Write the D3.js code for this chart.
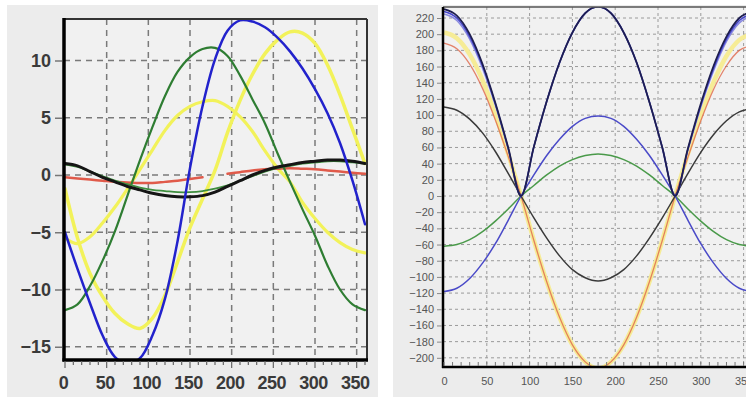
<!DOCTYPE html>
<html><head><meta charset="utf-8">
<script src="https://cdn.jsdelivr.net/npm/d3@7"></script>
<style>html,body{margin:0;padding:0;background:#fff;overflow:hidden}</style>
</head><body><svg id="c" width="746" height="397"></svg>
<script>
// ---------- DATA ----------
const degrees = [0,15,30,45,60,75,90,105,120,135,150,165,180,195,210,225,240,255,270,285,300,315,330,345,360];

// left chart
const leftXTicks = [0,50,100,150,200,250,300,350];
const leftYTicks = [-15,-10,-5,0,5,10];
const leftBlue    = [-5,-8.2,-11.2,-14,-15.9,-16.5,-16,-14,-10.8,-5.8,0.6,6,10.1,12.6,13.5,13.4,12.9,12,10.8,9.3,7.5,5.4,2.8,-0.5,-4.3];
const leftGreen   = [-11.8,-11.3,-9.7,-7.5,-4.9,-1.8,1.3,4.2,6.9,9,10.3,11,11.1,10.4,8.7,6.6,4.5,1.9,-0.6,-3,-5.3,-7.9,-10,-11.3,-11.8];
const leftYellowBig   = [-1.2,-5.5,-8.6,-10.6,-12.1,-13,-13.4,-12.5,-10.5,-7.6,-4.6,-2.1,0.4,3.7,6.5,8.8,10.6,11.8,12.5,12.4,11.5,9.6,7,4,1];
const leftYellowSmall = [-5.5,-6,-5.4,-4.2,-2.8,-1.2,0.5,2.2,3.9,5.2,6,6.4,6.5,6,5.1,3.8,2.1,0.6,-0.6,-2.4,-3.8,-5,-5.9,-6.5,-6.8];
const leftBlack   = [1,0.8,0.3,-0.2,-0.6,-1,-1.3,-1.6,-1.8,-1.9,-1.9,-1.8,-1.5,-1,-0.5,0,0.4,0.7,0.9,1.1,1.2,1.3,1.3,1.2,1];
const leftGreen2  = [0.9,0.7,0.3,-0.1,-0.5,-0.8,-1.1,-1.3,-1.4,-1.5,-1.5,-1.4,-1.2,-0.9,-0.5,-0.1,0.3,0.6,0.8,1,1.1,1.2,1.2,1.1,1];
const leftRed     = [-0.2,-0.3,-0.4,-0.5,-0.6,-0.65,-0.7,-0.7,-0.6,-0.5,-0.35,-0.2,null,0.1,0.25,0.4,0.5,0.55,0.6,0.55,0.5,0.4,0.3,0.2,0.1];

// right chart
const rightXTicks = [0,50,100,150,200,250,300,350];
const rightYTicks = [-200,-180,-160,-140,-120,-100,-80,-60,-40,-20,0,20,40,60,80,100,120,140,160,180,200,220];
const rightNavy   = [231,223,200,163,115,60,0,61,117,165,202,226,234,226,202,165,116,60,0,59,114,161,197,220,228];
const rightBlue   = [228,220,197,161,114,59,0,61,117,165,202,226,234,226,202,165,116,60,0,58,112,158,194,217,225];
const rightLight  = [225,217,194,158,112,58,0,61,117,165,202,226,234,226,202,165,116,60,0,57,110,155,191,214,222];
const rightRed    = [189,182,163,133,94,49,0,-55,-106,-150,-184,-205,-213,-205,-184,-150,-106,-55,0,48,93,132,161,180,186];
const rightYellow = [202,195,175,143,101,52,0,-55,-106,-150,-184,-205,-213,-205,-184,-150,-106,-55,0,52,100,141,173,193,200];
const rightBlack  = [110,106,95,78,55,28,0,-27,-52,-74,-91,-101,-105,-101,-91,-74,-52,-27,0,28,54,76,93,104,108];
const rightMidBlue= [-118,-114,-102,-83,-59,-30,0,26,50,70,86,96,99,96,86,70,50,26,0,-30,-59,-83,-102,-114,-118];
const rightGreen  = [-62,-60,-54,-44,-31,-16,0,13,26,37,45,50,52,50,45,37,26,13,0,-16,-31,-44,-54,-60,-62];

// ---------- DRAW ----------
const svg = d3.select('#c');
svg.append('rect').attr('width',746).attr('height',397).attr('fill','#fff');
const defs = svg.append('defs');

function series(arr){ return degrees.map((d,i)=>({x:d,y:arr[i]})); }

// ===== LEFT =====
(function(){
  const L = {left:64, right:367, top:19, bottom:360};
  svg.append('rect').attr('x',7).attr('y',5).attr('width',371).attr('height',392).attr('fill','#ececec');
  svg.append('rect').attr('x',L.left).attr('y',L.top).attr('width',L.right-L.left).attr('height',L.bottom-L.top).attr('fill','#f1f1f1');
  const x = d3.scaleLinear().domain([0,360]).range([65,365]);
  const y = d3.scaleLinear().domain([0,10]).range([175,60.5]);
  defs.append('clipPath').attr('id','clipL').append('rect')
    .attr('x',L.left).attr('y',L.top).attr('width',L.right-L.left).attr('height',L.bottom-L.top);
  const g = svg.append('g');
  g.selectAll('.hg').data(leftYTicks).join('line')
    .attr('x1',L.left).attr('x2',L.right).attr('y1',d=>y(d)).attr('y2',d=>y(d))
    .attr('stroke','#7a7a7a').attr('stroke-width',1.5).attr('stroke-dasharray','6,5');
  g.selectAll('.vg').data(leftXTicks.filter(d=>d>0)).join('line')
    .attr('y1',L.top).attr('y2',L.bottom).attr('x1',d=>x(d)).attr('x2',d=>x(d))
    .attr('stroke','#7a7a7a').attr('stroke-width',1.5).attr('stroke-dasharray','6,5');
  const line = d3.line().defined(d=>d.y!==null).x(d=>x(d.x)).y(d=>y(d.y)).curve(d3.curveCatmullRom.alpha(0.5));
  const lg = g.append('g').attr('clip-path','url(#clipL)');
  const draw=(arr,col,w)=>lg.append('path').attr('d',line(series(arr))).attr('fill','none').attr('stroke',col).attr('stroke-width',w).attr('stroke-linejoin','round').attr('stroke-linecap','round');
  draw(leftYellowSmall,'#f2f25a',3.2);
  draw(leftYellowBig,'#f2f25a',3.5);
  draw(leftRed,'#e05a4a',2.5);
  draw(leftGreen,'#2e7d32',2.2);
  draw(leftGreen2,'#3f8f3f',1.8);
  draw(leftBlack,'#151515',3);
  draw(leftBlue,'#2222cc',2.5);
  g.append('line').attr('x1',L.left).attr('x2',L.right).attr('y1',L.top).attr('y2',L.top).attr('stroke','#333').attr('stroke-width',2);
  g.append('line').attr('x1',L.right).attr('x2',L.right).attr('y1',L.top).attr('y2',L.bottom).attr('stroke','#333').attr('stroke-width',2);
  g.append('line').attr('x1',L.left).attr('x2',L.left).attr('y1',L.top-1).attr('y2',L.bottom+1.5).attr('stroke','#000').attr('stroke-width',3.5);
  g.append('line').attr('x1',L.left-1.5).attr('x2',L.right+1).attr('y1',L.bottom).attr('y2',L.bottom).attr('stroke','#000').attr('stroke-width',3.5);
  const yAx = d3.axisLeft(y).tickValues(leftYTicks).tickSize(7).tickPadding(4).tickFormat(d3.format('d'));
  const ya = g.append('g').attr('transform',`translate(${L.left-2},0)`).call(yAx);
  ya.select('.domain').remove();
  ya.selectAll('line').attr('stroke','#777').attr('stroke-width',1.5);
  ya.selectAll('text').attr('font-family','Liberation Sans, Arial, sans-serif').attr('font-size',18).attr('font-weight','bold').attr('fill','#3a3a3a');
  g.selectAll('.xm').data(d3.range(0,361,10)).join('line')
    .attr('x1',d=>x(d)).attr('x2',d=>x(d)).attr('y1',L.bottom+1).attr('y2',d=>L.bottom+(d%50===0?8:5))
    .attr('stroke','#666').attr('stroke-width',1.2);
  const xAx = d3.axisBottom(x).tickValues(leftXTicks).tickSize(0).tickPadding(16).tickFormat(d3.format('d'));
  const xa = g.append('g').attr('transform',`translate(-2,${L.bottom})`).call(xAx);
  xa.select('.domain').remove();
  xa.selectAll('text').attr('font-family','Liberation Sans, Arial, sans-serif').attr('font-size',18).attr('font-weight','bold').attr('fill','#3a3a3a').attr('letter-spacing','-0.5');
})();

// ===== RIGHT =====
(function(){
  const R = {left:443, right:760, top:7, bottom:367};
  svg.append('rect').attr('x',393).attr('y',5).attr('width',353).attr('height',392).attr('fill','#ececec');
  svg.append('rect').attr('x',R.left).attr('y',R.top).attr('width',R.right-R.left).attr('height',R.bottom-R.top).attr('fill','#f1f1f1');
  const x = d3.scaleLinear().domain([0,50]).range([444,486.8]);
  const y = d3.scaleLinear().domain([0,220]).range([196,18]);
  defs.append('clipPath').attr('id','clipR').append('rect')
    .attr('x',R.left).attr('y',R.top).attr('width',R.right-R.left).attr('height',R.bottom-R.top);
  const g = svg.append('g');
  g.selectAll('.hg').data(rightYTicks).join('line')
    .attr('x1',R.left).attr('x2',R.right).attr('y1',d=>y(d)).attr('y2',d=>y(d))
    .attr('stroke','#9a9a9a').attr('stroke-width',1).attr('stroke-dasharray','3,3');
  g.selectAll('.vg').data(rightXTicks.filter(d=>d>0)).join('line')
    .attr('y1',R.top).attr('y2',R.bottom).attr('x1',d=>x(d)).attr('x2',d=>x(d))
    .attr('stroke','#9a9a9a').attr('stroke-width',1).attr('stroke-dasharray','3,3');
  const line = d3.line().x(d=>x(d.x)).y(d=>y(d.y)).curve(d3.curveMonotoneX);
  const lg = g.append('g').attr('clip-path','url(#clipR)');
  const draw=(arr,col,w,op)=>lg.append('path').attr('d',line(series(arr))).attr('fill','none').attr('stroke',col).attr('stroke-width',w).attr('stroke-opacity',op||1).attr('stroke-linejoin','round');
  draw(rightYellow,'#f6ec96',4.5);
  draw(rightRed,'#e0684a',1.3,0.8);
  draw(rightGreen,'#4a9a4a',1.5);
  draw(rightBlack,'#3a3a3a',1.5);
  draw(rightMidBlue,'#4a4ac8',1.5);
  draw(rightLight,'#8a8ae0',1.5);
  draw(rightBlue,'#4444cc',1.5);
  draw(rightNavy,'#1e1e50',1.8);
  g.append('line').attr('x1',R.left).attr('x2',R.right).attr('y1',R.top).attr('y2',R.top).attr('stroke','#555').attr('stroke-width',1.5);
  g.append('line').attr('x1',R.left).attr('x2',R.left).attr('y1',R.top).attr('y2',R.bottom+1).attr('stroke','#000').attr('stroke-width',2.5);
  g.append('line').attr('x1',R.left-1).attr('x2',R.right).attr('y1',R.bottom).attr('y2',R.bottom).attr('stroke','#000').attr('stroke-width',2.5);
  const yAx = d3.axisLeft(y).tickValues(rightYTicks).tickSize(5).tickPadding(3).tickFormat(d3.format('d'));
  const ya = g.append('g').attr('transform',`translate(${R.left-1},0)`).call(yAx);
  ya.select('.domain').remove();
  ya.selectAll('line').attr('stroke','#888');
  ya.selectAll('text').attr('font-family','Liberation Sans, Arial, sans-serif').attr('font-size',11).attr('fill','#555');
  g.selectAll('.xm').data(d3.range(0,361,10)).join('line')
    .attr('x1',d=>x(d)).attr('x2',d=>x(d)).attr('y1',R.bottom-1).attr('y2',R.bottom-5)
    .attr('stroke','#777').attr('stroke-width',1);
  const xAx = d3.axisBottom(x).tickValues(rightXTicks).tickSize(0).tickPadding(10).tickFormat(d3.format('d'));
  const xa = g.append('g').attr('transform',`translate(0,${R.bottom})`).call(xAx);
  xa.select('.domain').remove();
  xa.selectAll('text').attr('font-family','Liberation Sans, Arial, sans-serif').attr('font-size',11).attr('fill','#555');
})();
</script></body></html>
